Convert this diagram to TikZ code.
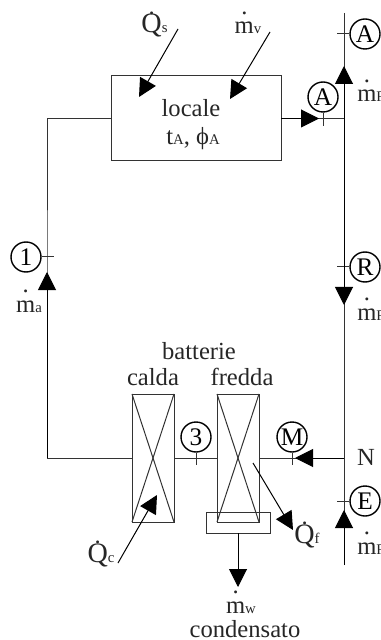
\documentclass[tikz,border=0pt]{standalone}
\usepackage{fontspec}
\setmainfont{Liberation Serif}
\usepackage{xcolor}
\usetikzlibrary{arrows.meta, positioning}
\newcommand{\qdot}{\leavevmode\rlap{\raisebox{0.74em}{\hspace{0.29em}.}}{\fontsize{20}{20}\selectfont Q}}
\newcommand{\mdot}{\leavevmode\rlap{\raisebox{0.8em}{\hspace{0.265em}.}}m}
\newcommand{\pedice}[1]{{\fontsize{10.5}{12}\selectfont #1}}

\begin{document}
\begin{tikzpicture}[
    x=0.25mm, y=-0.25mm,
    flow/.style={draw=black, -{Triangle[length=4.5mm,width=4.5mm]}},
    line/.style={draw=black!80, line width=0.25mm},
    box/.style={draw=black!80, line width=0.25mm, inner sep=0pt, outer sep=0pt},
    state/.style={draw=black, circle, line width=0.35mm, minimum size=7.5mm,
                  inner sep=0pt, font=\fontsize{18}{20}\selectfont},
    txt/.style={anchor=base, inner sep=0pt, text=black!85,
                font=\fontsize{17.5}{20}\selectfont},
    txtw/.style={txt, anchor=base west}
  ]
    \useasboundingbox (0,0) rectangle (381,640);

    \node[box, minimum width=42.5mm, minimum height=21.25mm] (locale) at (196,118.5) {};
    \node[box, minimum width=10.5mm, minimum height=32mm] (calda) at (153,458) {};
    \node[box, minimum width=10.5mm, minimum height=32mm] (fredda) at (238,458) {};
    \node[box, minimum width=16mm, minimum height=5.25mm] (tray) at (238,522.5) {};

    \coordinate (railtop) at (344,13);
    \coordinate (railbot) at (344,565);
    \coordinate (nodeA) at (344,118.5);
    \coordinate (nodeN) at (344,458);
    \coordinate (loopL) at (47,300);
    \coordinate (cornerL) at (47,458);
    \coordinate (tipA) at (319,118.5);
    \coordinate (tipUp) at (344,66);
    \coordinate (tipOne) at (47,272);
    \coordinate (tipR) at (344,305);
    \coordinate (tipM) at (295,458);
    \coordinate (tipE) at (344,510);
    \coordinate (tipW) at (238,587);
    \coordinate (tailQs) at (178,29);
    \coordinate (headQs) at (139,97);
    \coordinate (tailMv) at (270,32);
    \coordinate (headMv) at (230,99);
    \coordinate (tailQc) at (118,563);
    \coordinate (headQc) at (157,495);
    \coordinate (tailQf) at (253,463);
    \coordinate (headQf) at (293,530);

    \node[state] (topA) at (365,34) {A};
    \node[state] (midA) at (323,97) {A};
    \node[state] (one) at (26,257) {1};
    \node[state] (stateR) at (365,267) {R};
    \node[state] (three) at (196,437) {3};
    \node[state] (stateM) at (292,437) {M};
    \node[state] (stateE) at (365,501) {E};

    \node[txt] (lblLocale) at (191,117) {locale};
    \node[txt] (lblT) at (193,145) {t\pedice{A}, ϕ\pedice{A}};
    \node[txt] (lblQs) at (154.5,33) {\qdot\pedice{s}};
    \node[txt] (lblMv) at (248,34) {\mdot\pedice{v}};
    \node[txtw] (lblMrTop) at (357,102) {\mdot\pedice{R}};
    \node[txt] (lblMa) at (29,312) {\mdot\pedice{a}};
    \node[txtw] (lblMrMid) at (357,320) {\mdot\pedice{R}};
    \node[txt] (lblBatterie) at (199,359) {batterie};
    \node[txt] (lblCalda) at (153,385) {calda};
    \node[txt] (lblFredda) at (242,385) {fredda};
    \node[txt] (lblN) at (366,465) {N};
    \node[txt] (lblQf) at (307,543) {\qdot\pedice{f}};
    \node[txtw] (lblMrBot) at (357,554) {\mdot\pedice{R}};
    \node[txt] (lblQc) at (101,562) {\qdot\pedice{c}};
    \node[txt] (lblMw) at (241,613) {\mdot\pedice{w}};
    \node[txt] (lblCond) at (245,637) {condensato};

    \draw[line] (railtop) -- (railbot);
    \draw[line] (locale.west) -| (loopL) |- (calda.west);
    \draw[line] (locale.east) -- (nodeA);
    \draw[line] (calda.east) -- (fredda.west);
    \draw[line] (fredda.east) -- (nodeN);

    \draw[line] (calda.north west) -- (calda.south east);
    \draw[line] (calda.north east) -- (calda.south west);
    \draw[line] (fredda.north west) -- (fredda.south east);
    \draw[line] (fredda.north east) -- (fredda.south west);

    \draw[line] (topA.west) -- ++(-12,0);
    \draw[line] (stateR.west) -- ++(-12,0);
    \draw[line] (stateE.west) -- ++(-12,0);
    \draw[line] (one.east) -- ++(12,0);
    \draw[line] (midA.south) -- ++(0,13);
    \draw[line] (three.south) -- ++(0,12);
    \draw[line] (stateM.south) -- ++(0,12);

    \draw[line, flow] (locale.east) -- (tipA);
    \draw[line, flow] (nodeA) -- (tipUp);
    \draw[line, flow] (cornerL) -- (tipOne);
    \draw[line, flow] (nodeA) -- (tipR);
    \draw[line, flow] (nodeN) -- (tipM);
    \draw[line, flow] (railbot) -- (tipE);
    \draw[line, flow] (tray.south) -- (tipW);
    \draw[line, flow] (tailQs) -- (headQs);
    \draw[line, flow] (tailMv) -- (headMv);
    \draw[line, flow] (tailQc) -- (headQc);
    \draw[line, flow] (tailQf) -- (headQf);
  \end{tikzpicture}
\end{document}
